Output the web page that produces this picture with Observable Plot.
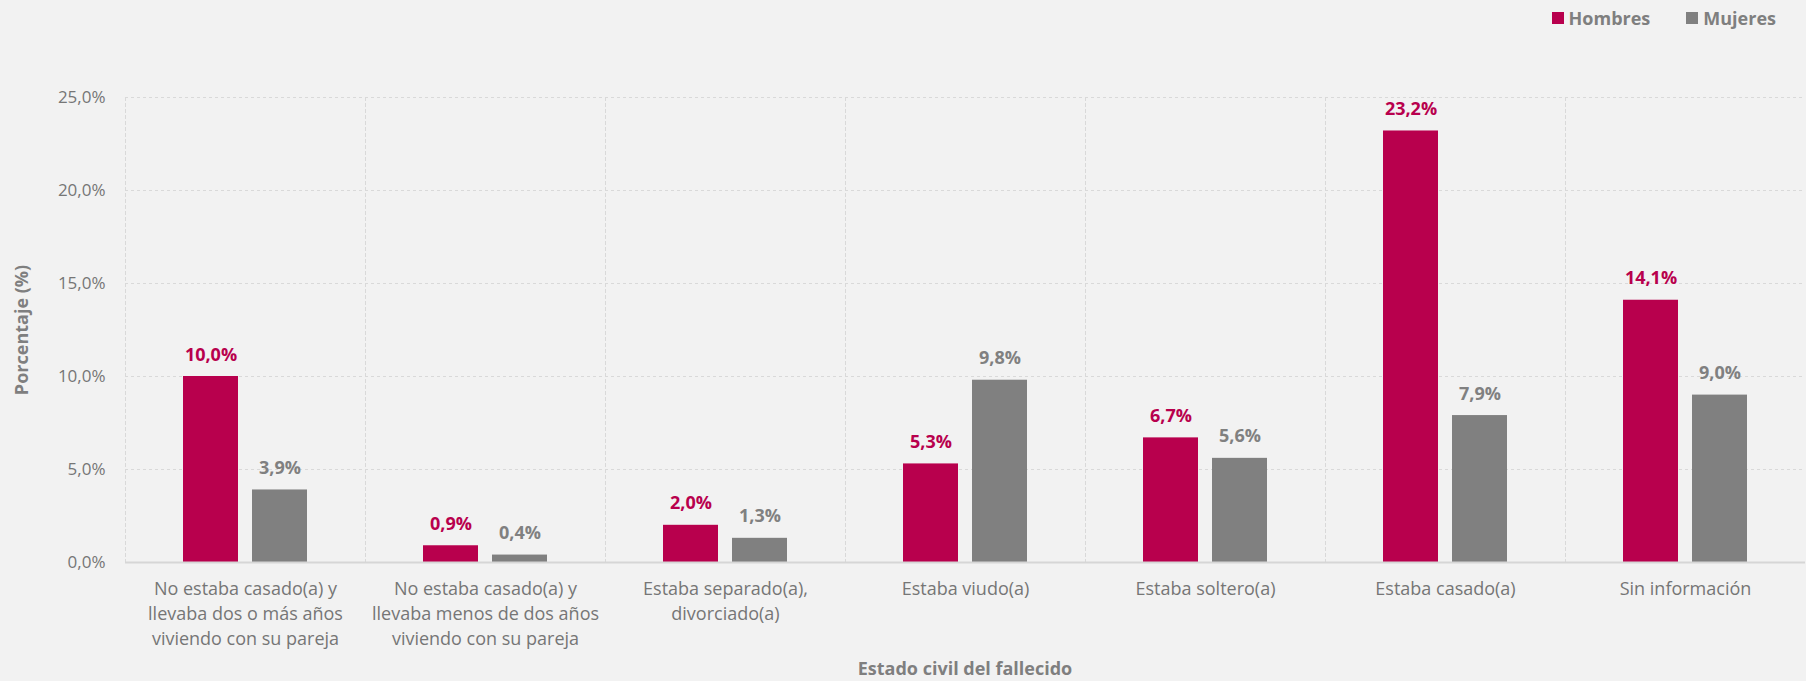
<!DOCTYPE html>
<html><head><meta charset="utf-8">
<script src="https://cdn.jsdelivr.net/npm/d3@7"></script>
<script src="https://cdn.jsdelivr.net/npm/@observablehq/plot@0.6"></script>
<style>
body{margin:0;background:#f2f2f2;font-family:"Open Sans",sans-serif;overflow:hidden;}
#legend{height:36px;display:flex;justify-content:flex-end;align-items:center;padding-right:30px;color:#7f7f7f;font-weight:bold;font-size:18px;}
#legend .item{display:flex;align-items:center;margin-left:36px;}
#legend .sw{width:12px;height:12px;margin-right:5px;}
#chart svg{display:block;}
#caption{position:relative;height:30px;}
#caption span{position:absolute;left:965px;top:0px;transform:translateX(-50%);font-weight:bold;font-size:18px;color:#7f7f7f;line-height:26px;white-space:nowrap;}
</style></head><body>
<div id="legend"></div>
<div id="chart"></div>
<div id="caption"><span>Estado civil del fallecido</span></div>
<script>
const categories = [
  "No estaba casado(a) y\nllevaba dos o más años\nviviendo con su pareja",
  "No estaba casado(a) y\nllevaba menos de dos años\nviviendo con su pareja",
  "Estaba separado(a),\ndivorciado(a)",
  "Estaba viudo(a)",
  "Estaba soltero(a)",
  "Estaba casado(a)",
  "Sin información"
];
const hombres = [10.0, 0.9, 2.0, 5.3, 6.7, 23.2, 14.1];
const mujeres = [3.9, 0.4, 1.3, 9.8, 5.6, 7.9, 9.0];
const series = ["Hombres", "Mujeres"];
const colors = ["#b8004d", "#808080"];
const yTicks = [0, 5, 10, 15, 20, 25];
const yLabel = "Porcentaje (%)";

const data = categories.flatMap((c, i) => [
  {cat: c, sex: series[0], value: hombres[i]},
  {cat: c, sex: series[1], value: mujeres[i]}
]);
const fmt = v => v.toFixed(1).replace(".", ",") + "%";

const legend = document.getElementById("legend");
series.forEach((s, i) => {
  const it = document.createElement("div");
  it.className = "item";
  it.innerHTML = `<span class="sw" style="background:${colors[i]}"></span><span>${s}</span>`;
  legend.appendChild(it);
});

const chart = Plot.plot({
  width: 1806, height: 619,
  marginTop: 61, marginBottom: 93, marginLeft: 124, marginRight: 0,
  style: {background: "#f2f2f2", fontFamily: "Open Sans", overflow: "visible"},
  fx: {domain: categories, padding: 0, label: null},
  x: {domain: series, paddingInner: 0.203, paddingOuter: 0.84, axis: null},
  y: {domain: [0, 25], label: null},
  color: {domain: series, range: colors},
  marks: [
    Plot.gridY(yTicks, {stroke: "#d9d9d9", strokeOpacity: 1, strokeDasharray: "3,3"}),
    Plot.frame({anchor: "left", stroke: "#d9d9d9", strokeDasharray: "3,3"}),
    Plot.barY(data, {fx: "cat", x: "sex", y: "value", fill: "sex"}),
    Plot.ruleY([0], {stroke: "#d6d6d6", strokeWidth: 2}),
    Plot.text(data, {fx: "cat", x: "sex", y: "value", text: d => fmt(d.value), fill: "sex",
      lineAnchor: "bottom", dy: -16, fontSize: 18, fontWeight: "bold"}),
    Plot.axisY(yTicks, {tickSize: 0, tickPadding: 20, tickFormat: fmt, fontSize: 17, fill: "#767676",
      label: yLabel, labelAnchor: "center", labelArrow: "none", labelOffset: 110}),
    Plot.axisFx({anchor: "bottom", tickSize: 0, tickPadding: 15, fontSize: 18, lineHeight: 1.38, fill: "#767676", label: null})
  ]
});
const lab = chart.querySelector('[aria-label="y-axis label"]');
if (lab) { lab.setAttribute("font-weight", "bold"); lab.setAttribute("fill", "#7f7f7f"); lab.setAttribute("font-size", "18"); }
document.getElementById("chart").appendChild(chart);
</script>
</body></html>
